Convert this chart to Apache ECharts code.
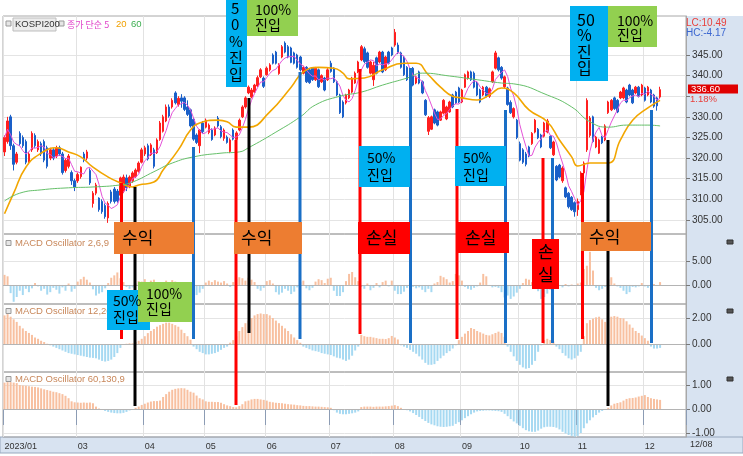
<!DOCTYPE html>
<html><head><meta charset="utf-8">
<script src="https://cdn.jsdelivr.net/npm/echarts@6/dist/echarts.min.js"></script>
<style>html,body{margin:0;padding:0;background:#fff}#c{width:743px;height:456px}</style>
</head><body><div id="c"></div>
<script>
// ---------- data ----------
const tickLabels = ['2023/01','03','04','05','06','07','08','09','10','11','12'];
const monthStarts = [0,24,46,66,86,107,128,150,169,188,210];
const slotCount = 224;
const mainTicks = [305,310,315,320,325,330,335,340,345];
const mainLabels = [305,310,315,320,325,330,340,345];
const osc1Ticks = [0,5];
const osc2Ticks = [0,2];
const osc3Ticks = [-1,0,1];
// [open, close, low, high]
const candles = [
[321.5,325,320.5,325.5],[324,329,323.5,330],[330,323,322,330.5],[323,318.5,317,323.5],[319,321,318.5,321.5],
[326,323.5,323,326.5],[325,323,322.5,325.5],[324,319,318.5,324.5],[319,321,318.5,321.5],[322,326,321.5,326.5],
[325.5,323,322.5,326],[322,324,321.5,324.5],[323.5,321,320.5,324],[324,319.5,319,324.5],[322.5,318,317.5,323],
[320,322,319.5,322.5],[322,320,319.5,322.5],[320.5,322.5,320,323],[322.5,321,320.5,323],[321,316.5,316,321.5],
[317,319.5,316.5,320],[318,320.5,317.5,321],[316.5,314.5,313.5,317],[314.5,313,312,315],[314.5,316,314,316.5],
[315.5,317.8,315,318],[321,319.5,319,321.5],[320,321.5,319.5,322],[317,314,313.5,317.5],[309,311.5,308,312],
[311.5,313.5,311,314],[310.3,307.5,307,310.5],[309.5,307,306.5,310],[308.5,305.8,305.3,309],[305.5,309,304.3,309.5],
[311.8,309.5,309,312.3],[312.5,309.5,309,313],[312,309.6,309.2,312.5],[311,315.2,310.5,315.5],[312,315.4,311.5,316],
[315.2,312.8,312,316],[313,315.4,312.7,315.8],[314.5,316.4,314,316.8],[315.5,317.1,315.2,317.5],[316.8,318.8,316.5,319.2],
[319,322,318.7,322.5],[321,322.5,320.5,323],[323,319.8,319.4,323.5],[320.8,323.2,320.5,323.6],[322,318,317.5,322.5],
[321.3,324.4,321,324.8],[324.5,328.5,324.2,329],[326.5,330,326.2,330.5],[329,332.4,328.7,333],[332.4,330.2,329.8,333],
[332.4,334,332,334.5],[335.8,333.4,333,336.2],[333,334.5,332.5,335],[334.6,333.8,332.2,335.5],[334.6,331.8,331.4,335],
[332.4,330.6,330.2,334],[331.7,327.8,327.4,332],[329.4,324.6,324.2,329.8],[325.6,323.8,323.4,326],[323,326.8,321.2,327],
[328.5,326.4,326,329],[327.5,329.2,327.2,329.6],[326.2,328,325.8,328.4],[326.8,324.5,324.2,327.2],[325.6,327.3,325.3,327.7],
[329.7,327.8,327.4,330.2],[327.6,325.2,324.8,328],[324.8,326.8,324.2,327.2],[325.1,323.8,323.5,325.5],[321.6,324.4,321.2,324.8],
[326.8,324.6,324.3,327.2],[324.5,326.1,324.2,326.5],[326.8,329.2,326.5,329.6],[330,332.4,329.7,332.8],[332.4,334.6,332,335],
[335.8,337.2,335.5,337.6],[334.8,336.5,334.5,337],[336,337.7,335.8,338],[337.5,339.5,337.2,340],[339.7,341.4,339.4,341.8],
[339.4,337.4,337,339.8],[340.2,341.8,340,342.2],[341.4,342.6,341,343],[345,343,342.7,345.4],[345.7,343,342.7,346],
[340.5,342.6,340.2,343],[344.5,347,344.2,347.4],[347.9,345.7,345.4,348.3],[347,344.5,344.2,347.4],[346.7,343.2,343,347],
[345.5,343,342.7,345.8],[345,342,341.7,345.3],[344.5,341.4,341,344.8],[340.6,342,340.3,342.4],[342,338.5,338.2,342.3],
[341.4,338.3,338,341.7],[341.8,339,338.7,342],[339,341.8,338.7,342.1],[341.4,337.3,337,341.7],[338.5,340,338.2,340.3],
[339.4,336.5,336.2,339.7],[339,341.4,338.7,341.8],[343,341,340.7,343.6],[341.8,338.5,338.2,342],[338.5,335.3,335,338.8],
[335.3,331,330.7,335.6],[333.6,330,329.7,334],[333.4,335.3,333,335.6],[334.6,336.5,334.3,336.8],[336,339.4,335.7,339.7],
[338.2,340.6,338,341],[340.9,343.3,340.6,343.6],[343.8,347,343.5,347.4],[346.5,343.4,343,347],[345.5,342,341.7,345.8],
[340.6,343.3,340.3,343.6],[339,342.5,337.5,343.3],[344.3,340.6,340.3,344.6],[343.3,345.7,343,346],[345.7,340.9,340.6,346],
[341.4,344.5,341.1,344.8],[345.7,343,342.7,346],[346.7,345,344.7,347],[347.4,350.5,347,351.3],[347.4,345.5,345.2,348],
[345.5,342,341.7,345.8],[344.5,340.2,339.9,344.8],[342,339,338.7,342.3],[337.7,341.4,337.4,341.7],[341.8,337.7,337.4,342.1],
[338.2,339.7,337.9,340],[340.9,338.2,337.9,341.2],[338.5,335.8,335.5,338.8],[334,330.5,330.2,334.3],[326.5,329.8,325.6,330.2],
[327,330,326.8,330.3],[331.7,328.5,328.2,332],[331.2,328,327.7,331.5],[329.2,331.2,329,331.5],[330.9,334,330.6,334.3],
[329.5,332.4,329.2,332.7],[331.2,333.6,331,333.9],[335.3,332.4,332.1,335.6],[336,333.4,333.1,336.3],[337,333.6,333.3,337.3],
[333.6,336.5,333.3,336.8],[337.2,340.2,337,340.5],[339.4,340.9,339,341.2],[340.9,339,338.7,341.2],[340.6,337.2,336.9,341],
[338.2,335.3,335,338.5],[336.5,333.6,333.3,336.8],[335.3,337.2,335,337.5],[337.2,335,334.7,337.5],[335,336.8,334.6,337.1],
[338.5,340.9,338.2,341.2],[341.8,345.5,341.5,346],[344.3,341.4,341,344.6],[342,339.4,339,342.3],[337.3,339.7,337,340],
[337,333,332.7,337.3],[333.5,331,330.7,334],[330,332,329.6,332.3],[329.2,325,324.6,329.5],[323.5,319.5,319.2,324],
[322,319,318.6,322.4],[321,318.5,318,321.5],[322.7,320.5,320.2,323],[323.5,326,323.2,326.3],[326.3,329.2,326,329.5],
[327,324.9,324.6,327.3],[325.6,322.7,322.4,325.9],[325.3,328.5,325,328.8],[326.3,329,326,329.5],[325.3,322.5,322.2,325.6],
[320.8,323.9,320.5,324.2],[318,314.7,314.4,318.3],[318.3,315.4,315.1,318.6],[314.5,317.6,314,318],[312.8,310.6,310.3,313.1],
[311.5,308.2,307.8,311.8],[310.5,307.5,307.2,310.8],[309.2,307,305.8,309.5],[307.5,309.5,306,310.2],[312.3,316.4,311,316.8],
[316.4,318.8,316,319.2],[322,334,321.5,334.5],[325.5,329.7,325,330.2],[330,324,323.7,330.3],[322.7,325.1,322.4,325.4],
[321.2,324.4,321,324.7],[325.1,323.7,323.4,325.4],[324.4,327.8,324.1,328.2],[331,333.6,330.7,333.9],[331.7,334,331.4,334.3],
[334.6,332,331.7,334.9],[334,331.2,330.9,334.3],[334.6,336,334.3,336.3],[334.6,337,334.3,337.3],[336.5,333.6,333.3,336.8],
[337.7,335.3,335,338],[336.5,333.4,333.1,336.8],[335.8,337.2,335.5,337.5],[337.2,335,334.7,337.5],[335.3,337.7,335,338],
[337,334,333.7,337.3],[335.3,337.2,335,337.5],[336.5,333.6,333.3,336.8],[335.3,332.6,332.2,335.6],[334.6,332.67,331.5,334.9],
[334.8,336.6,334.3,337.3]
];
// moving averages: [candle index, value]
const ma20Pts = [[0,306.5],[3,311.5],[7,317.8],[12,321.2],[17,322.5],[21,321.5],[25,320.3],[29,317.8],[34,315.4],[38,314],[42,313],[44,313.5],[49,314.2],[52,317.1],[57,322],[61,326.8],[64,328.5],[70,329.2],[73,328.8],[76,327.5],[80,327.5],[87,331.2],[94,337.2],[98,340.9],[103,342],[108,341.8],[111,340.6],[113,339.2],[118,339.4],[124,341.4],[131,343],[135,343],[139,340.2],[143,337.2],[147,335],[150,334.6],[155,334.1],[159,335.3],[163,337],[167,335.8],[172,331.7],[178,328.8],[182,324.4],[186,320.3],[188,318.1],[192,318.8],[198,318.8],[202,324.4],[206,329.2],[211,332.2],[215,334]];
const ma60Pts = [[0,309.6],[5,311.5],[12,312.3],[21,312.8],[29,313],[38,313.5],[42,314.2],[49,316.7],[55,318.8],[62,320.3],[71,321.2],[77,321.5],[80,322.5],[89,326.3],[97,330],[102,332.9],[110,335],[117,336],[124,337.7],[132,339.4],[137,340.6],[146,339.9],[155,339],[163,338.2],[167,338],[178,335.3],[186,332.4],[192,328.8],[198,327.5],[204,328],[211,328],[215,327.8]];
const osc269 = [
2.1,1.8,-1.7,-3.5,-2.5,-1.2,-2.1,-0.8,-1.5,-0.7,
0.4,-0.3,-1.2,-0.8,-2.0,-1.5,-0.6,-1.0,-1.8,-0.5,
-1.2,0.3,-1.4,-0.8,0.7,1.2,1.7,1.1,0.5,-0.9,
-2.2,-1.8,-1.5,-0.7,0.4,1.5,2.0,2.6,1.4,0.6,
-0.4,-0.8,-0.5,0.3,0.8,0.7,1.2,0.5,0.9,1.1,
0.6,-0.4,0.5,0.9,0.4,1.0,0.7,-0.6,0.3,0.5,
0.2,-0.9,-1.8,-2.1,-1.6,-0.8,0.5,0.9,0.6,1.0,
0.7,0.5,0.8,0.3,-0.4,0.6,1.2,1.6,1.4,0.9,
1.5,1.1,0.6,-0.8,-1.2,-0.6,0.8,1.0,0.3,-1.5,
-2.0,-1.6,-0.8,-1.2,-1.9,-1.4,-0.5,0.6,0.9,-0.7,
-1.1,-0.6,0.7,1.2,1.0,0.4,1.3,1.5,-1.2,-2.3,
-2.3,-1.5,0.8,2.3,2.7,1.6,0.8,-0.4,-0.8,0.3,
-1.1,-0.6,0.4,-0.5,0.6,0.9,-0.3,0.9,-1.2,-1.9,
-1.9,-1.4,-0.6,-0.9,-0.4,-0.7,-0.5,-1.0,-1.5,-0.8,
-1.5,0.3,0.6,1.9,1.6,1.2,0.5,0.8,2.3,2.0,
0.9,-0.4,-0.8,-1.0,-0.6,-0.3,0.5,2.3,1.8,-0.2,
-0.5,-0.4,-0.6,-1.5,-2.6,-2.2,-2.9,-2.4,-1.6,-0.8,
0.4,1.3,1.1,0.6,-0.5,-1.3,-2.9,-2.5,-1.8,-1.0,
-0.4,0.3,-0.2,-0.5,0.2,-0.3,0.1,-0.2,0.3,0.5,
3.3,4.0,6.9,3.0,-0.6,-1.1,-0.8,-0.4,1.2,1.6,
0.3,-0.3,-0.6,-1.2,-1.9,-1.5,-0.4,-0.5,-0.3,0.4,
-0.3,-0.6,-0.4,0.2,-0.2,0.6];
const osc1226 = [
2.2,2.3,2.1,1.9,1.7,1.4,1.2,1.0,0.85,0.7,
0.5,0.4,0.25,0.15,0.02,-0.1,-0.2,-0.3,-0.4,-0.5,
-0.6,-0.7,-0.75,-0.8,-0.85,-0.9,-0.95,-1.0,-1.05,-1.07,
-1.1,-1.2,-1.3,-1.35,-1.3,-1.2,-1.0,-0.7,-0.3,-0.05,
0.02,0.05,0.05,0.15,0.25,0.4,0.6,0.84,1.0,1.15,
1.33,1.45,1.55,1.64,1.64,1.55,1.45,1.33,1.1,0.84,
0.6,0.33,-0.2,-0.4,-0.6,-0.7,-0.8,-0.8,-0.75,-0.7,
-0.6,-0.45,-0.3,-0.2,0.1,0.3,0.6,1.0,1.3,1.6,
1.8,2.0,2.2,2.3,2.35,2.3,2.3,2.2,2.0,1.8,
1.6,1.4,1.2,1.0,0.75,0.5,0.3,0.1,-0.2,-0.3,
-0.4,-0.5,-0.55,-0.6,-0.7,-0.75,-0.8,-0.85,-0.95,-1.05,
-1.1,-1.2,-1.3,-1.2,-0.9,-0.5,-0.2,0.7,0.6,0.55,
0.55,0.5,0.45,0.4,0.4,0.38,0.45,0.62,0.5,0.35,
-0.1,-0.2,-0.3,-0.45,-0.6,-0.75,-0.95,-1.2,-1.45,-1.6,
-1.6,-1.55,-1.3,-1.1,-0.9,-0.7,-0.55,-0.35,-0.1,0.3,
0.55,0.8,1.0,1.23,1.15,1.0,0.9,0.8,0.7,0.66,
0.75,0.85,0.95,0.85,0.55,-0.2,-0.6,-0.95,-1.3,-1.6,
-1.8,-1.9,-1.85,-1.6,-1.3,-0.6,-0.1,0.3,0.4,0.3,
0.2,-0.2,-0.4,-0.7,-0.9,-1.1,-1.2,-1.1,-0.9,-0.6,
0.6,1.6,1.84,1.95,2.05,2.1,1.9,1.7,1.9,2.1,
2.15,2.1,2.0,1.97,1.75,1.5,1.25,1.0,0.85,0.65,
0.45,0.25,-0.2,-0.35,-0.35,-0.3];
const osc60130 = [
1.1,1.12,1.12,1.1,1.08,1.0,0.98,0.97,0.95,0.93,
0.92,0.9,0.86,0.82,0.79,0.76,0.72,0.7,0.66,0.62,
0.55,0.45,0.32,0.28,0.27,0.26,0.27,0.26,0.27,0.24,
0.1,0.02,-0.04,-0.08,-0.12,-0.15,-0.17,-0.18,-0.18,-0.16,
-0.12,-0.06,0,0.05,0.1,0.17,0.22,0.27,0.31,0.33,
0.33,0.35,0.5,0.62,0.72,0.8,0.84,0.86,0.87,0.86,
0.8,0.72,0.68,0.56,0.45,0.4,0.32,0.3,0.3,0.29,
0.29,0.26,0.2,0.15,0.12,0.08,0.07,0.12,0.2,0.32,
0.35,0.4,0.42,0.42,0.4,0.38,0.35,0.3,0.28,0.26,
0.25,0.24,0.22,0.2,0.19,0.18,0.16,0.15,0.13,0.12,
0.12,0.11,0.1,0.1,0.09,0.08,0.07,0.05,-0.05,-0.15,
-0.2,-0.22,-0.22,-0.2,-0.18,-0.15,-0.1,0.08,0.1,0.1,
0.1,0.09,0.1,0.1,0.1,0.11,0.12,0.14,0.16,0.12,
0.05,0,-0.05,-0.1,-0.17,-0.25,-0.33,-0.42,-0.5,-0.58,
-0.64,-0.68,-0.72,-0.74,-0.75,-0.74,-0.72,-0.7,-0.62,-0.55,
-0.47,-0.38,-0.3,-0.22,-0.15,-0.1,-0.08,-0.07,-0.06,-0.06,
-0.07,-0.08,-0.09,-0.12,-0.2,-0.3,-0.42,-0.52,-0.6,-0.7,
-0.8,-0.88,-0.93,-0.95,-0.95,-0.9,-0.82,-0.76,-0.74,-0.74,
-0.75,-0.78,-0.85,-0.95,-1.02,-1.08,-1.12,-1.15,-1.12,-1.0,
-0.8,-0.6,-0.47,-0.35,-0.25,-0.15,-0.08,-0.02,0.05,0.15,
0.22,0.25,0.28,0.35,0.42,0.45,0.46,0.48,0.52,0.55,
0.58,0.5,0.45,0.42,0.4,0.38];

// annotation overlay (pixel layout): [x, y1, y2, color]
const annLines = [
 [121.5,183,339,'#ff0000'],[135,187,406,'#000000'],[193.5,147,339,'#1a6fc6'],
 [236,140,405,'#ff0000'],[249,98,333,'#000000'],[300,72,339,'#1a6fc6'],
 [360,69,334,'#ff0000'],[410.5,68,343,'#1a6fc6'],[457,109,339,'#ff0000'],
 [505.5,110,343,'#1a6fc6'],[543,158,343,'#ff0000'],[552.5,158,343,'#1a6fc6'],
 [582.5,173,339,'#ff0000'],[608,140,406,'#000000'],[651.5,110,343,'#1a6fc6']
];
const OR='#ed7d31', RD='#ff0000', BL='#00b0f0', GR='#92d050';
const annBoxes = [
 [114,222,80,32,OR,[['수익',122,238,17]]],
 [234,222,68,32,OR,[['수익',241,238,17]]],
 [358,222,52,32,RD,[['손실',366,238,17]]],
 [456,222,53,31,RD,[['손실',465,238,17]]],
 [532,239,27,50,RD,[['손',538,252,17],['실',538,275,17]]],
 [581,222,70,29,OR,[['수익',589,237,17]]],
 [107,290,43,40,BL,[['50%',113,301,14],['진입',113,317,14]]],
 [138,282,54,40,GR,[['100%',146,294,14],['진입',146,309,14]]],
 [226,0,21,87,BL,[['5',231,8,15],['0',231,24,15],['%',229,41,15],['진',229,57,15],['입',229,74,15]]],
 [247,0,51,36,GR,[['100%',255,10,14],['진입',255,25,14]]],
 [359,146,51,41,BL,[['50%',367,158,14],['진입',367,175,14]]],
 [455,146,51,40,BL,[['50%',463,158,14],['진입',463,175,14]]],
 [570,6,38,75,BL,[['50',577,20,16],['%',577,35,16],['진',577,52,16],['입',577,68,16]]],
 [608,6,49,41,GR,[['100%',617,21,14],['진입',617,35,14]]]
];

// ---------- build ----------
const categories = Array.from({length: slotCount}, (_, i) => String(i));
const labelMap = {};
monthStarts.forEach((s, k) => labelMap[s] = tickLabels[k]);
const isMonth = (idx) => labelMap[idx] !== undefined;
const closes = candles.map(c => c[1]);
const ma5 = closes.map((_, i) => {
  const s = closes.slice(Math.max(0, i - 4), i + 1);
  return +(s.reduce((a, b) => a + b, 0) / s.length).toFixed(2);
});
const POS = '#f8c0a0', NEG = '#a6d9f2';
const barData = arr => arr.map(v => ({value: v, itemStyle: {color: v >= 0 ? POS : NEG}}));
const NUMF = '"Liberation Sans", Arial, sans-serif';
const KRF = '"Noto Sans CJK KR", "Noto Sans", sans-serif';

const gridDefs = [[16,218],[234,70],[304,68],[372,65]];
const grids = gridDefs.map(([t,h]) => ({left:3, right:57, top:t, height:h, show:true,
  borderColor:'#a8a8a8', borderWidth:1, backgroundColor:'transparent', containLabel:false, outerBoundsMode:'none'}));

const xAxes = gridDefs.map((g, k) => ({
  type:'category', gridIndex:k, data:categories, boundaryGap:true,
  axisLine:{show:false},
  axisTick:{show:k===3, interval:(i)=>isMonth(i), length:16, lineStyle:{color:'#8c9cb4'}},
  axisLabel:{show:k===3, interval:(i)=>isMonth(i), formatter:(v,i)=>labelMap[i]||'',
    align:'left', margin:5, fontSize:9, color:'#333', fontFamily:NUMF},
  splitLine:{show:true, interval:(i)=>isMonth(i), lineStyle:{color:'#e2e2e2', width:1}}
}));

function yAx(k, min, max, ticks, labels) {
  return {type:'value', gridIndex:k, position:'right', min, max,
    axisLine:{show:true, lineStyle:{color:'#a8a8a8'}},
    axisTick:{show:true, length:4, customValues:ticks, lineStyle:{color:'#777'}},
    axisLabel:{customValues:labels||ticks, formatter:v=>v.toFixed(2), fontSize:10, color:'#333', margin:6, fontFamily:NUMF},
    splitLine:{show:true, lineStyle:{color:'#e4e4e4'}}
  };
}
const yAxes = [
  yAx(0, 301.6, 354.45, mainTicks, mainLabels),
  yAx(1, -3.96, 10.6, osc1Ticks),
  yAx(2, -2.154, 3.077, osc2Ticks),
  yAx(3, -1.167, 1.542, osc3Ticks)
];
const zeroLine = {symbol:['none','none'], silent:true, animation:false, label:{show:false},
  lineStyle:{color:'#b4b4b4', width:1, type:'solid'}, data:[{yAxis:0}]};

const series = [
  {type:'candlestick', xAxisIndex:0, yAxisIndex:0, data:candles, barWidth:2,
   itemStyle:{color:'#ff1f1f', color0:'#1a5fc8', borderColor:'#ff1f1f', borderColor0:'#1a5fc8', borderWidth:1}},
  {type:'line', xAxisIndex:0, yAxisIndex:0, data:ma5, showSymbol:false, symbol:'none',
   lineStyle:{color:'#e452d8', width:1}},
  {type:'line', xAxisIndex:0, yAxisIndex:0, data:ma20Pts, showSymbol:false, symbol:'none', smooth:true,
   lineStyle:{color:'#f2a600', width:1.6}},
  {type:'line', xAxisIndex:0, yAxisIndex:0, data:ma60Pts, showSymbol:false, symbol:'none', smooth:true,
   lineStyle:{color:'#66c06a', width:1}},
  {type:'bar', xAxisIndex:1, yAxisIndex:1, data:barData(osc269), barWidth:2, markLine:zeroLine},
  {type:'bar', xAxisIndex:2, yAxisIndex:2, data:barData(osc1226), barWidth:2, markLine:zeroLine},
  {type:'bar', xAxisIndex:3, yAxisIndex:3, data:barData(osc60130), barWidth:2, markLine:zeroLine}
];

// ---------- graphics ----------
const g = [];
const rect = (x,y,w,h,fill,stroke,z) => g.push({type:'rect', shape:{x,y,width:w,height:h}, style:{fill, stroke:stroke||null, lineWidth:1}, z:z||0, silent:true});
const txt = (x,y,t,size,color,font,z,align) => g.push({type:'text', x, y, silent:true, z:z||5,
  style:{text:t, fill:color, font:size+'px '+(font||NUMF), textAlign:align||'left', align:align||'left', textVerticalAlign:'middle', verticalAlign:'middle'}});
// right axis / bottom bar backgrounds
rect(686,16,57,421,'#d8e3f1',null,-10);
rect(0,437,743,16,'#d8e3f1','#98a8be',-10);
// legend row
rect(6,21,5,5,'#e6e6e6','#999',6);
rect(13,18,43,13,'#ececec','#bdbdbd',6);
txt(15,24.5,'KOSPI200',9.5,'#333',NUMF,7);
rect(59,21,5,5,'#e6e6e6','#999',6);
txt(67,24.5,'종가 단순 5',9,'#e040c8',KRF,7);
txt(116,24.5,'20',9.5,'#f0a000',NUMF,7);
txt(131,24.5,'60',9.5,'#3cae50',NUMF,7);
// panel labels
[[243,'MACD Oscillator 2,6,9'],[311,'MACD Oscillator 12,26,9'],[379,'MACD Oscillator 60,130,9']].forEach(([y,t])=>{
  rect(6,y-2.5,5,5,'#e6e6e6','#999',6);
  txt(15,y,t,9.5,'#c8875a',NUMF,7);
});
[240,309,377].forEach(y=>rect(727,y,6,4,'#555','#333',6));
// price info
txt(686,23,'LC:10.49',10,'#e8403c',NUMF,7);
txt(686,33,'HC:-4.17',10,'#3a66d0',NUMF,7);
rect(688,84.5,50,9,'#e00000',null,6);
txt(691,89,'336.60',9.5,'#ffffff',NUMF,7);
txt(690,99.5,'1.18%',9.5,'#e8403c',NUMF,7);
txt(690,445,'12/08',9,'#333',NUMF,7);
// annotation lines
annLines.forEach(([x,y1,y2,c]) => g.push({type:'line', shape:{x1:x,y1,x2:x,y2}, style:{stroke:c, lineWidth:3}, z:50, silent:true}));
// annotation boxes
annBoxes.forEach(([x,y,w,h,fill,texts]) => {
  rect(x,y,w,h,fill,null,60);
  texts.forEach(([t,tx,ty,s]) => txt(tx,ty,t,s,'#000',KRF,61));
});

const chart = echarts.init(document.getElementById('c'), null, {renderer:'canvas', width:743, height:456});
chart.setOption({
  animation:false, backgroundColor:'#ffffff',
  grid:grids, xAxis:xAxes, yAxis:yAxes, series, graphic:g
});
</script></body></html>
